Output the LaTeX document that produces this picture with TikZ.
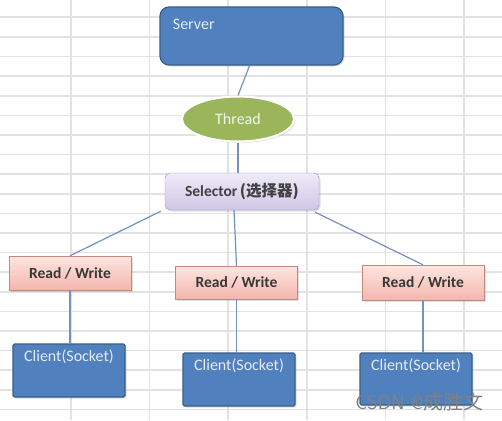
\documentclass[tikz,border=0pt]{standalone}
\usepackage{fontspec}
\setmainfont{Carlito}
\newfontfamily\cjk{Noto Sans CJK SC}
\usepackage{tikz}
\usetikzlibrary{shapes.geometric,shadows}
\definecolor{gridgray}{HTML}{E2E2E2}
\definecolor{boxblue}{HTML}{5080BE}
\definecolor{boxblueline}{HTML}{385D8A}
\definecolor{linkblue}{HTML}{7391C2}
\definecolor{threadgreen}{HTML}{9BB55A}
\definecolor{lavtop}{HTML}{EEEBF8}
\definecolor{lavbot}{HTML}{CFC7E6}
\definecolor{lavline}{HTML}{9A90C4}
\definecolor{pinktop}{HTML}{FDE6E1}
\definecolor{pinkbot}{HTML}{F3B6AC}
\definecolor{pinkline}{HTML}{C6877F}

\begin{document}
\begin{tikzpicture}[x=1pt, y=-1pt,
    shade/.style={drop shadow={opacity=0.25, shadow xshift=1.5pt, shadow yshift=-1.5pt}},
    bluebox/.style={draw=boxblueline, fill=boxblue, line width=1.2pt, shade},
    serverbox/.style={bluebox, rounded corners=9pt, minimum width=183pt, minimum height=58pt},
    clientbox/.style={bluebox, rounded corners=1.5pt, minimum width=112pt, minimum height=53pt},
    threadnode/.style={ellipse, draw=white, line width=2pt, fill=threadgreen, shade,
        minimum width=112pt, minimum height=45pt, text=white!88!threadgreen, font=\fontsize{16}{18}\selectfont},
    selbox/.style={draw=lavline, top color=lavtop, bottom color=lavbot, rounded corners=5pt, shade,
        minimum width=154pt, minimum height=37pt, text=black!75, font=\bfseries\fontsize{15.5}{18}\selectfont},
    rwbox/.style={draw=pinkline, top color=pinktop, bottom color=pinkbot, shade,
        minimum width=122pt, minimum height=34pt, text=black!78, font=\bfseries\fontsize{15.5}{18}\selectfont},
    lighttext/.style={text=white!85!boxblue, font=\fontsize{16}{18}\selectfont},
    link/.style={draw=linkblue, line width=1.2pt}]
    \useasboundingbox (0,0) rectangle (502,420);
    \fill[white] (0,0) rectangle (502,420);
    % spreadsheet grid
    \foreach \gx in {71,149.6,228.2,306.8,385.4,464}
        \draw[gridgray, line width=1.6pt] (\gx,0) -- (\gx,420);
    \foreach \k in {0,...,20}
        \draw[gridgray, line width=1.6pt] (0,17.3+19.6*\k) -- (502,17.3+19.6*\k);

    \node[serverbox, label={[lighttext, anchor=north west, xshift=10pt, yshift=-9pt]north west:Server}] (server) at (251.5,36) {};
    \node[threadnode] (thread) at (238,119) {Thread};
    \node[selbox] (sel) at (242,191.5) {Selector\,{\cjk (选择器)}};

    \node[rwbox] (rw1) at (70,273) {Read / Write};
    \node[rwbox, minimum height=33pt] (rw2) at (236.5,282.5) {Read / Write};
    \node[rwbox, minimum height=35pt] (rw3) at (423,282.5) {Read / Write};

    \node[clientbox, label={[lighttext, anchor=north, yshift=-3pt]north:Client(Socket)}] (c1) at (69,370.5) {};
    \node[clientbox, label={[lighttext, anchor=north, yshift=-3pt]north:Client(Socket)}] (c2) at (239,379.5) {};
    \node[clientbox, minimum height=52pt, label={[lighttext, anchor=north, yshift=-3pt]north:Client(Socket)}] (c3) at (416,379) {};

    \draw[link] ([xshift=-2pt]server.south) -- (thread.north);
    \draw[link] (thread.south) -- ([xshift=-4pt]sel.north);
    \draw[link] ([shift={(-4pt,-1pt)}]sel.south west) -- (rw1.north);
    \draw[link] ([xshift=-8pt]sel.south) -- (rw2.north);
    \draw[link] ([shift={(-4pt,-2pt)}]sel.south east) -- (rw3.north);
    \draw[link] (rw1.south) -- (c1.north -| rw1.south);
    \draw[link] (rw2.south) -- (c2.north -| rw2.south);
    \draw[link] (rw3.south) -- (c3.north -| rw3.south);

    % watermark
    \node[anchor=east, text=black!50, font=\sffamily\fontsize{20}{22}\selectfont] (mark) at (487,402) {CSDN @{\cjk 成胜文}};
\end{tikzpicture}
\end{document}
